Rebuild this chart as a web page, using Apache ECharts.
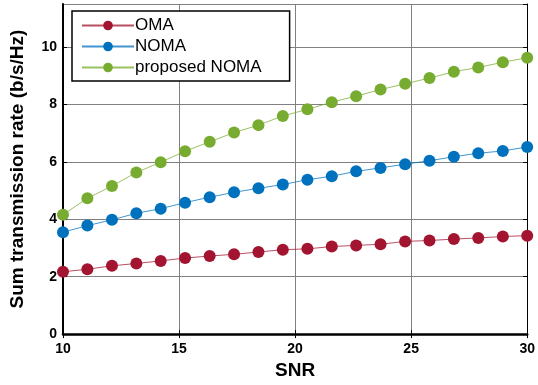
<!DOCTYPE html>
<html>
<head>
<meta charset="utf-8">
<script src="https://cdn.jsdelivr.net/npm/echarts@6/dist/echarts.min.js"></script>
<style>
  html, body { margin: 0; padding: 0; background: #fff; }
  #chart { width: 538px; height: 385px; }
</style>
</head>
<body>
<div id="chart"></div>
<script>
// SNR points (20 markers between 10 and 30)
const snr = [10, 11.05, 12.11, 13.16, 14.21, 15.26, 16.32, 17.37, 18.42, 19.47,
             20.53, 21.58, 22.63, 23.68, 24.74, 25.79, 26.84, 27.89, 28.95, 30];
const omaRate = [2.17, 2.26, 2.38, 2.46, 2.55, 2.65, 2.72, 2.78, 2.86, 2.94,
                 2.97, 3.05, 3.09, 3.13, 3.23, 3.26, 3.31, 3.35, 3.40, 3.43];
const nomaRate = [3.55, 3.78, 3.98, 4.21, 4.37, 4.58, 4.77, 4.94, 5.08, 5.21,
                  5.38, 5.50, 5.67, 5.79, 5.92, 6.04, 6.18, 6.30, 6.38, 6.52];
const proposedRate = [4.16, 4.73, 5.16, 5.63, 5.99, 6.37, 6.70, 7.02, 7.28, 7.60,
                      7.83, 8.08, 8.29, 8.52, 8.72, 8.92, 9.14, 9.29, 9.47, 9.63];
const seriesNames = ['OMA', 'NOMA', 'proposed NOMA'];
const colors = ['#A2142F', '#0072BD', '#77AC30'];

const pairs = ys => snr.map((x, i) => [x, ys[i]]);

const chart = echarts.init(document.getElementById('chart'), null, { renderer: 'canvas' });

const makeSeries = (name, ys, color) => ({
    name: name,
    type: 'line',
    data: pairs(ys),
    symbol: 'circle',
    symbolSize: 12,
    itemStyle: { color: color },
    lineStyle: { color: color, width: 1, opacity: 0.75 },
    emphasis: { disabled: true },
    animation: false
});

chart.setOption({
    backgroundColor: '#fff',
    textStyle: { fontFamily: 'Liberation Sans, Arial, sans-serif' },
    grid: { left: 63, right: 6, top: 4, bottom: 47, containLabel: false },
    legend: {
        data: seriesNames,
        orient: 'vertical',
        left: 72,
        top: 11,
        padding: [6, 28, 5, 9],
        itemGap: 4,
        itemWidth: 52,
        itemHeight: 12,
        borderColor: '#000',
        borderWidth: 1.5,
        backgroundColor: '#fff',
        textStyle: { fontSize: 17, color: '#000', padding: [0, 0, 0, -4] }
    },
    xAxis: [{
        type: 'value',
        min: 10, max: 30, interval: 5,
        name: 'SNR',
        nameLocation: 'middle',
        nameGap: 25,
        nameTextStyle: { fontSize: 19, fontWeight: 'bold', color: '#000' },
        axisLine: { lineStyle: { color: '#000', width: 2.5 } },
        axisTick: { inside: true, length: 4, lineStyle: { color: '#000' } },
        axisLabel: { fontSize: 14, fontWeight: 'bold', color: '#000', margin: 8 },
        splitLine: { show: true, lineStyle: { color: '#808080', width: 1 } }
    }, {
        type: 'value',
        position: 'top',
        min: 10, max: 30, interval: 5,
        axisLine: { show: true, lineStyle: { color: '#000', width: 1 } },
        axisTick: { show: true, inside: true, length: 4, lineStyle: { color: '#000' } },
        axisLabel: { show: false },
        splitLine: { show: false }
    }],
    yAxis: [{
        type: 'value',
        min: 0, max: 11.5, interval: 2,
        name: 'Sum transmission rate (b/s/Hz)',
        nameLocation: 'middle',
        nameGap: 36,
        nameTextStyle: { fontSize: 19, fontWeight: 'bold', color: '#000' },
        axisLine: { show: true, lineStyle: { color: '#000', width: 2 } },
        axisTick: { show: true, inside: true, length: 4, lineStyle: { color: '#000' } },
        axisLabel: { fontSize: 14, fontWeight: 'bold', color: '#000', margin: 6,
                     showMaxLabel: false },
        splitLine: { show: true, lineStyle: { color: '#808080', width: 1 } }
    }, {
        type: 'value',
        position: 'right',
        min: 0, max: 11.5, interval: 2,
        axisLine: { show: true, lineStyle: { color: '#000', width: 1 } },
        axisTick: { show: true, inside: true, length: 4, lineStyle: { color: '#000' } },
        axisLabel: { show: false },
        splitLine: { show: false }
    }],
    series: [
        makeSeries(seriesNames[0], omaRate, colors[0]),
        makeSeries(seriesNames[1], nomaRate, colors[1]),
        makeSeries(seriesNames[2], proposedRate, colors[2])
    ]
});
</script>
</body>
</html>
